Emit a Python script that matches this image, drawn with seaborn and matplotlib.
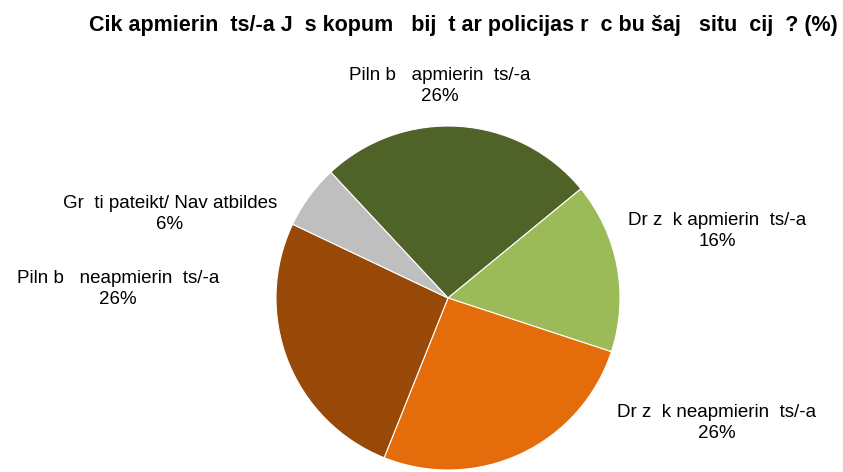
import matplotlib
matplotlib.use("Agg")
import matplotlib.pyplot as plt
import seaborn as sns

# Survey answers, in the order they go round the pie (clockwise)
categories = [
    "Piln b   apmierin  ts/-a",
    "Dr z  k apmierin  ts/-a",
    "Dr z  k neapmierin  ts/-a",
    "Piln b   neapmierin  ts/-a",
    "Gr  ti pateikt/ Nav atbildes",
]
shares = [26, 16, 26, 26, 6]
colors = ["#4F6228", "#9BBB59", "#E46C0A", "#984807", "#BFBFBF"]
title = "Cik apmierin  ts/-a J  s kopum   bij  t ar policijas r  c bu šaj   situ  cij  ? (%)"

sns.set_theme(style="white")
plt.rcParams["font.family"] = ["Liberation Sans", "DejaVu Sans"]

W, H = 843, 472
fig = plt.figure(figsize=(W / 100, H / 100), dpi=100)
ax = fig.add_axes([0, 0, 1, 1])

cx, cy, r = 448, H - 298, 172
ax.pie(shares, colors=colors, startangle=133, counterclock=False,
       center=(cx, cy), radius=r, frame=True,
       wedgeprops=dict(edgecolor="white", linewidth=0.8))
ax.set_xlim(0, W)
ax.set_ylim(0, H)
ax.axis("off")

# Slice labels with their percentage underneath
label_pos = [(440, 86), (717, 231), (717, 423), (118, 289), (170, 214)]
for name, val, (x, y) in zip(categories, shares, label_pos):
    ax.text(x, H - y, f"{name}\n{val}%", ha="center", va="center",
            fontsize=13.5, color="black", linespacing=1.3)

ax.text(463, H - 25, title, ha="center", va="center", fontsize=15.5,
        fontweight="bold", color="black")

fig.savefig("out.png", dpi=100)
